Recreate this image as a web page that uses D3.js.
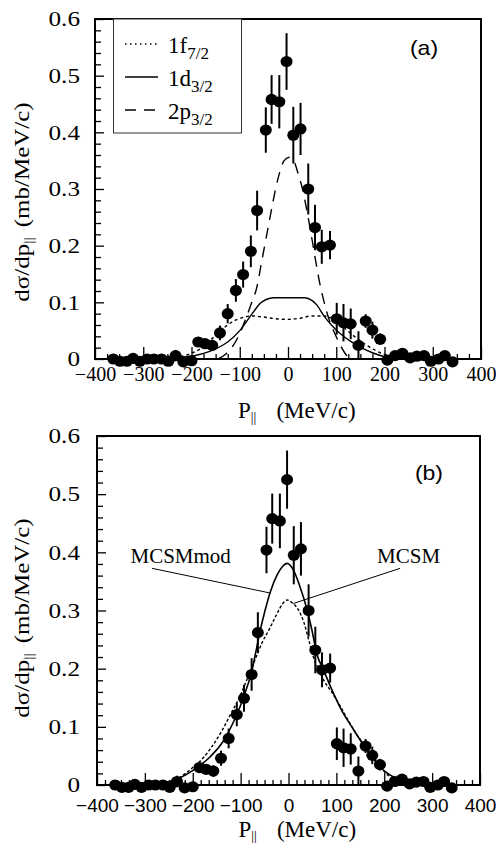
<!DOCTYPE html>
<html>
<head>
<meta charset="utf-8">
<script src="https://cdn.jsdelivr.net/npm/d3@7"></script>
<style>
body { margin: 0; background: #fff; }
svg { display: block; }
</style>
</head>
<body>
<div id="chart"></div>
<script>
// DATA

// Measured parallel momentum (MeV/c), cross section (mb/MeV/c) and errors
var pMeas = [-362, -348, -334, -321, -307, -292, -278, -262, -248, -233, -217, -200,
    -186, -172, -157, -141, -125, -108, -93, -77, -64, -46, -34, -18,
    -3, 11, 26, 42, 56, 70, 87, 101, 115, 130, 146, 161,
    175, 191, 206, 222, 237, 253, 267, 282, 296, 312, 325, 341];
var sigMeas = [0, -0.004, -0.004, 0.001, -0.004, 0, 0, 0, -0.004, 0.006, -0.005, -0.003,
    0.03, 0.027, 0.024, 0.046, 0.08, 0.121, 0.149, 0.19, 0.262, 0.404, 0.458, 0.454,
    0.525, 0.395, 0.406, 0.30, 0.232, 0.198, 0.201, 0.071, 0.064, 0.062, 0.024, 0.067,
    0.051, 0.035, -0.002, 0.006, 0.01, 0.002, 0.005, 0.006, -0.004, 0, 0.006, -0.005];
var sigErr = [0.004, 0.004, 0.004, 0.004, 0.004, 0.006, 0.004, 0.005, 0.004, 0.01, 0.004, 0.008,
    0.008, 0.008, 0.01, 0.013, 0.017, 0.02, 0.023, 0.028, 0.035, 0.04, 0.043, 0.047,
    0.05, 0.05, 0.046, 0.045, 0.04, 0.03, 0.025, 0.028, 0.033, 0.027, 0.025, 0.012,
    0.015, 0.01, 0.006, 0.006, 0.006, 0.006, 0.004, 0.006, 0.004, 0.004, 0.006, 0.004];

// Panel (a): 1f7/2 (dotted)
var p1f = [-260, -225, -200, -175, -150, -130, -110, -90, -75, -50, -25, 0, 25, 50, 75, 90, 110, 130, 150, 175, 200, 225];
var v1f = [0.001, 0.004, 0.01, 0.022, 0.042, 0.057, 0.068, 0.074, 0.076, 0.074, 0.071, 0.07, 0.072, 0.076, 0.076, 0.072, 0.06, 0.045, 0.032, 0.018, 0.008, 0.002];
// Panel (a): 1d3/2 (solid)
var p1d = [-260, -225, -200, -175, -150, -125, -100, -86, -70, -58, -45, -30, 0, 35, 50, 60, 73, 90, 108, 130, 150, 175, 200, 225];
var v1d = [0.001, 0.003, 0.005, 0.01, 0.018, 0.03, 0.05, 0.066, 0.085, 0.098, 0.105, 0.108, 0.108, 0.108, 0.103, 0.095, 0.078, 0.06, 0.045, 0.031, 0.021, 0.011, 0.004, 0.001];
// Panel (a): 2p3/2 (dashed)
var p2p = [-145, -130, -115, -100, -88, -75, -65, -55, -45, -35, -27, -17, -8, 3, 12, 20, 30, 40, 50, 58, 66, 75, 85, 97, 110, 120, 130];
var v2p = [0, 0.008, 0.022, 0.045, 0.07, 0.1, 0.125, 0.17, 0.215, 0.26, 0.295, 0.33, 0.35, 0.356, 0.35, 0.33, 0.3, 0.258, 0.21, 0.17, 0.133, 0.1, 0.07, 0.045, 0.022, 0.008, 0];

// Panel (b): MCSMmod (solid)
var pMod = [-300, -247, -198, -163, -135, -114, -90, -76, -66, -59, -49, -38, -24, -12, -3, 10, 24, 38, 49, 59, 73, 91, 108, 136, 164, 191, 219, 255, 290];
var vMod = [0, 0.006, 0.026, 0.049, 0.077, 0.11, 0.16, 0.198, 0.238, 0.266, 0.3, 0.332, 0.361, 0.376, 0.381, 0.37, 0.341, 0.304, 0.266, 0.226, 0.198, 0.163, 0.133, 0.095, 0.06, 0.031, 0.014, 0.003, 0];
// Panel (b): MCSM (dotted)
var pMcsm = [-300, -260, -230, -200, -180, -160, -140, -120, -100, -85, -70, -55, -40, -25, -12, -3, 8, 20, 32, 42, 52, 62, 75, 90, 105, 120, 140, 155, 170, 185, 200, 220, 250, 280];
var vMcsm = [0, 0.004, 0.012, 0.03, 0.045, 0.066, 0.092, 0.123, 0.155, 0.185, 0.215, 0.245, 0.268, 0.293, 0.312, 0.318, 0.313, 0.302, 0.28, 0.25, 0.22, 0.2, 0.178, 0.16, 0.14, 0.118, 0.09, 0.072, 0.055, 0.038, 0.023, 0.01, 0.002, 0];

// Tick values
var xTicks = [-400, -300, -200, -100, 0, 100, 200, 300, 400];
var yTicks = [0, 0.1, 0.2, 0.3, 0.4, 0.5, 0.6];

// SETUP

var serif = "'Liberation Serif', 'Times New Roman', Times, serif";
var sans = "'Liberation Sans', Arial, Helvetica, sans-serif";

var svg = d3.select("#chart")
    .append("svg")
    .attr("width", 496)
    .attr("height", 843);

// Panel frames in pixels
var boxA = {left: 95, right: 481, top: 19, bottom: 359};
var boxB = {left: 97, right: 480, top: 436, bottom: 785};

function makeScales(box) {
    return {
        x: d3.scaleLinear().domain([-400, 400]).range([box.left, box.right]),
        y: d3.scaleLinear().domain([0, 0.6]).range([box.bottom, box.top])
    };
}

function zip(ps, vs) {
    return ps.map(function(p, i) { return [p, vs[i]]; });
}

// Stretch a text element horizontally around its anchor
function stretchX(sel, k) {
    sel.each(function() {
        var t = d3.select(this);
        var x = +t.attr("x") || 0;
        t.attr("transform", "translate(" + x + ",0) scale(" + k + ",1) translate(" + (-x) + ",0)");
    });
}

// Draw frame, ticks and tick labels for one panel
function drawAxes(box, sc, opt) {
    var g = svg.append("g");
    // minor x ticks
    var xMinor = d3.range(-400, 400.01, opt.xMinorStep).filter(function(d) {
        return Math.abs(d % 100) > 0.01 && Math.abs(d % 100) < 99.99;
    });
    g.append("g")
        .attr("transform", "translate(0," + box.bottom + ")")
        .call(d3.axisBottom(sc.x).tickValues(xMinor).tickSize(-5).tickFormat(""))
        .call(function(a) { a.select(".domain").remove(); });
    // major x ticks and labels
    var xa = g.append("g")
        .attr("transform", "translate(0," + box.bottom + ")")
        .call(d3.axisBottom(sc.x).tickValues(xTicks).tickSizeInner(-12).tickSizeOuter(0)
            .tickPadding(opt.xPad).tickFormat(d3.format("d")));
    xa.select(".domain").remove();
    xa.selectAll("text")
        .attr("font-family", opt.xFont)
        .attr("font-size", opt.xSize)
        .attr("fill", "#000");
    // minor y ticks
    var yMinor = d3.range(0, 0.6001, 0.02).filter(function(d) {
        return Math.abs(Math.round(d * 10) - d * 10) > 0.01;
    });
    g.append("g")
        .attr("transform", "translate(" + box.left + ",0)")
        .call(d3.axisLeft(sc.y).tickValues(yMinor).tickSize(-6).tickFormat(""))
        .call(function(a) { a.select(".domain").remove(); });
    // major y ticks and labels
    var ya = g.append("g")
        .attr("transform", "translate(" + box.left + ",0)")
        .call(d3.axisLeft(sc.y).tickValues(yTicks).tickSizeInner(-9).tickSizeOuter(0)
            .tickPadding(opt.yPad)
            .tickFormat(function(d) { return d === 0 ? "0" : d3.format(".1f")(d); }));
    ya.select(".domain").remove();
    ya.selectAll("text")
        .attr("font-family", serif)
        .attr("font-size", 21)
        .attr("fill", "#000")
        .call(stretchX, 1.2);
    g.selectAll(".tick line").attr("stroke", "#000").attr("stroke-width", 1.3);
    // frame
    g.append("rect")
        .attr("x", box.left)
        .attr("y", box.top)
        .attr("width", box.right - box.left)
        .attr("height", box.bottom - box.top)
        .attr("fill", "none")
        .attr("stroke", "#000")
        .attr("stroke-width", 2);
}

// Measured points with error bars
function drawPoints(sc) {
    var pts = svg.append("g").selectAll("g").data(d3.range(pMeas.length)).enter().append("g");
    pts.append("line")
        .attr("x1", function(i) { return sc.x(pMeas[i]); })
        .attr("x2", function(i) { return sc.x(pMeas[i]); })
        .attr("y1", function(i) { return sc.y(sigMeas[i] - sigErr[i]); })
        .attr("y2", function(i) { return sc.y(sigMeas[i] + sigErr[i]); })
        .attr("stroke", "#000")
        .attr("stroke-width", 2);
    pts.append("ellipse")
        .attr("cx", function(i) { return sc.x(pMeas[i]); })
        .attr("cy", function(i) { return sc.y(sigMeas[i]); })
        .attr("rx", 6)
        .attr("ry", 5.6)
        .attr("fill", "#000");
}

function drawCurve(sc, ps, vs, dash, width) {
    var line = d3.line()
        .x(function(d) { return sc.x(d[0]); })
        .y(function(d) { return sc.y(d[1]); })
        .curve(d3.curveMonotoneX);
    svg.append("path")
        .datum(zip(ps, vs))
        .attr("d", line)
        .attr("fill", "none")
        .attr("stroke", "#000")
        .attr("stroke-width", width)
        .attr("stroke-dasharray", dash);
}

// Axis titles
function drawTitles(box, cy, xBase) {
    var mid = (box.left + box.right) / 2;
    // x title
    var xt = svg.append("text")
        .attr("x", mid - 50)
        .attr("y", xBase)
        .attr("font-family", serif)
        .attr("font-size", 23)
        .attr("fill", "#000");
    xt.append("tspan").text("P");
    xt.append("tspan").attr("font-size", 14).attr("dy", 4).text("||");
    xt.append("tspan").attr("dy", -4).attr("dx", 20).text("(MeV/c)");
    // y title
    var yt = svg.append("text")
        .attr("transform", "translate(29," + cy + ") rotate(-90) scale(1.25,1)")
        .attr("text-anchor", "middle")
        .attr("font-family", serif)
        .attr("font-size", 20)
        .attr("fill", "#000");
    yt.append("tspan").text("d\u03C3/dp");
    yt.append("tspan").attr("font-size", 13).attr("dy", 4).text("||");
    yt.append("tspan").attr("dy", -4).attr("dx", 8).text("(mb/MeV/c)");
}

// PANEL (a)
var scA = makeScales(boxA);
drawAxes(boxA, scA, {xMinorStep: 25, xPad: 8, xFont: serif, xSize: 20, yPad: 15});
drawCurve(scA, p1d, v1d, null, 1.4);
drawCurve(scA, p1f, v1f, "3,3", 1.4);
drawCurve(scA, p2p, v2p, "11,8", 1.4);
drawPoints(scA);
drawTitles(boxA, 202, 418);

// Legend
var leg = svg.append("g");
leg.append("rect")
    .attr("x", 113.5)
    .attr("y", boxA.top)
    .attr("width", 128)
    .attr("height", 114)
    .attr("fill", "#fff")
    .attr("stroke", "#333")
    .attr("stroke-width", 1);
var legItems = [
    {main: "1f", sub: "7/2", dash: "1.5,3.5"},
    {main: "1d", sub: "3/2", dash: null},
    {main: "2p", sub: "3/2", dash: "11,8"}
];
legItems.forEach(function(it, i) {
    var base = 53 + i * 33;
    leg.append("line")
        .attr("x1", 125)
        .attr("x2", 158)
        .attr("y1", base - 9)
        .attr("y2", base - 9)
        .attr("stroke", "#000")
        .attr("stroke-width", 1.4)
        .attr("stroke-dasharray", it.dash);
    var t = leg.append("text")
        .attr("x", 168)
        .attr("y", base)
        .attr("font-family", serif)
        .attr("font-size", 23)
        .attr("fill", "#000");
    t.append("tspan").text(it.main);
    t.append("tspan").attr("font-size", 17).attr("dy", 6).text(it.sub);
});

svg.append("text")
    .attr("x", boxA.right - 57)
    .attr("y", boxA.top + 36)
    .attr("text-anchor", "middle")
    .attr("font-family", sans)
    .attr("font-size", 20)
    .attr("fill", "#000")
    .text("(a)")
    .call(stretchX, 1.15);

// PANEL (b)
var scB = makeScales(boxB);
drawAxes(boxB, scB, {xMinorStep: 100 / 6, xPad: 14, xFont: sans, xSize: 19, yPad: 17});
drawCurve(scB, pMcsm, vMcsm, "3,2", 1.4);
drawCurve(scB, pMod, vMod, null, 1.6);
drawPoints(scB);
drawTitles(boxB, 618, 837);

svg.append("text")
    .attr("x", boxB.right - 51)
    .attr("y", boxB.top + 44)
    .attr("text-anchor", "middle")
    .attr("font-family", sans)
    .attr("font-size", 20)
    .attr("fill", "#000")
    .text("(b)")
    .call(stretchX, 1.15);

// Curve labels with leader lines (data coordinates)
var notes = [
    {label: "MCSMmod", tx: -330, ty: 0.382, from: [-285, 0.3725], to: [-38, 0.33]},
    {label: "MCSM", tx: 185, ty: 0.382, from: [233, 0.3725], to: [10, 0.312]}
];
notes.forEach(function(n) {
    svg.append("text")
        .attr("x", scB.x(n.tx))
        .attr("y", scB.y(n.ty))
        .attr("font-family", serif)
        .attr("font-size", 21)
        .attr("fill", "#000")
        .text(n.label);
    svg.append("line")
        .attr("x1", scB.x(n.from[0]))
        .attr("y1", scB.y(n.from[1]))
        .attr("x2", scB.x(n.to[0]))
        .attr("y2", scB.y(n.to[1]))
        .attr("stroke", "#000")
        .attr("stroke-width", 1);
});
</script>
</body>
</html>
